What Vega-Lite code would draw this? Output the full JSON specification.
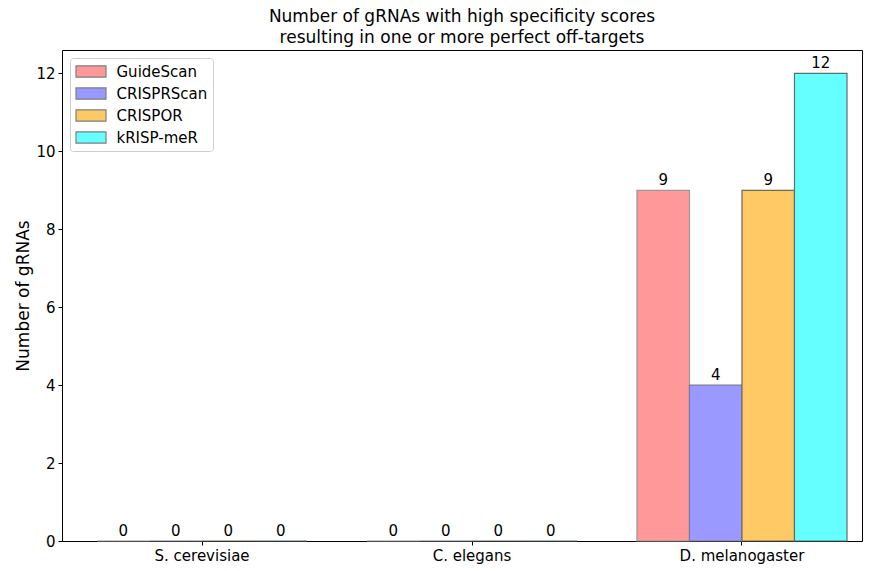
{
  "$schema": "https://vega.github.io/schema/vega-lite/v6.json",
  "width": 800,
  "height": 491,
  "autosize": {"type": "none"},
  "padding": {"left": 62, "top": 50, "right": 11, "bottom": 30},
  "background": "white",
  "config": {
    "font": "DejaVu Sans",
    "view": {"stroke": "black", "strokeWidth": 1},
    "axis": {"domainColor": "black", "tickColor": "black", "labelColor": "black", "titleColor": "black", "grid": false, "labelFontSize": 15, "tickSize": 4, "titleFontWeight": "normal"}
  },
  "title": {
    "text": ["Number of gRNAs with high specificity scores", "resulting in one or more perfect off-targets"],
    "fontSize": 17,
    "fontWeight": "normal",
    "color": "black",
    "lineHeight": 21,
    "offset": 3
  },
  "data": {
    "values": [
      {"species": "S. cerevisiae", "method": "GuideScan", "value": 0},
      {"species": "S. cerevisiae", "method": "CRISPRScan", "value": 0},
      {"species": "S. cerevisiae", "method": "CRISPOR", "value": 0},
      {"species": "S. cerevisiae", "method": "kRISP-meR", "value": 0},
      {"species": "C. elegans", "method": "GuideScan", "value": 0},
      {"species": "C. elegans", "method": "CRISPRScan", "value": 0},
      {"species": "C. elegans", "method": "CRISPOR", "value": 0},
      {"species": "C. elegans", "method": "kRISP-meR", "value": 0},
      {"species": "D. melanogaster", "method": "GuideScan", "value": 9},
      {"species": "D. melanogaster", "method": "CRISPRScan", "value": 4},
      {"species": "D. melanogaster", "method": "CRISPOR", "value": 9},
      {"species": "D. melanogaster", "method": "kRISP-meR", "value": 12}
    ]
  },
  "encoding": {
    "x": {
      "field": "species", "type": "nominal",
      "sort": ["S. cerevisiae", "C. elegans", "D. melanogaster"],
      "scale": {"paddingInner": 0.222, "paddingOuter": 0.0926, "align": 0.7},
      "axis": {"title": null, "labelAngle": 0, "labelPadding": 3}
    },
    "xOffset": {
      "field": "method", "type": "nominal",
      "sort": ["GuideScan", "CRISPRScan", "CRISPOR", "kRISP-meR"],
      "scale": {"paddingInner": 0, "paddingOuter": 0}
    },
    "y": {
      "field": "value", "type": "quantitative",
      "scale": {"domain": [0, 12.6], "nice": false, "zero": true},
      "axis": {"title": "Number of gRNAs", "titleFontSize": 17, "values": [0, 2, 4, 6, 8, 10, 12], "titlePadding": 3, "labelPadding": 3}
    }
  },
  "layer": [
    {
      "mark": {"type": "bar", "strokeWidth": 1.2},
      "encoding": {
        "fill": {
          "field": "method", "type": "nominal",
          "sort": ["GuideScan", "CRISPRScan", "CRISPOR", "kRISP-meR"],
          "scale": {"range": ["#ff9999", "#9999ff", "#ffc966", "#66ffff"]},
          "legend": {
            "title": null, "orient": "top-left", "offset": 8,
            "fillColor": "white", "strokeColor": "#cccccc", "cornerRadius": 3,
            "padding": 5, "labelFontSize": 15, "labelColor": "black",
            "symbolType": "M-2,-0.75H2V0.75H-2Z", "symbolSize": 225,
            "symbolStrokeColor": "#7f7f7f", "symbolOpacity": 1,
            "symbolStrokeWidth": 1.2, "symbolOffset": 7.5, "rowPadding": 5, "labelOffset": 17
          }
        },
        "stroke": {
          "field": "method", "type": "nominal",
          "sort": ["GuideScan", "CRISPRScan", "CRISPOR", "kRISP-meR"],
          "scale": {"range": ["#999999", "#7a7a9a", "#6b6b5a", "#5a7070"]},
          "legend": null
        }
      }
    },
    {
      "mark": {"type": "text", "baseline": "bottom", "dy": -2, "fontSize": 15, "color": "black"},
      "encoding": {"text": {"field": "value", "type": "quantitative"}}
    }
  ]
}
